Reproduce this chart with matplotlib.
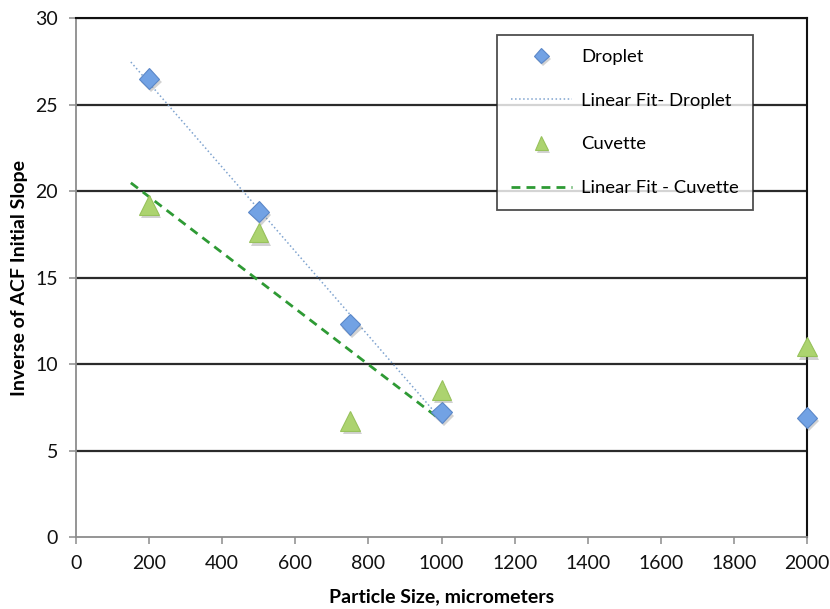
import matplotlib
matplotlib.use("Agg")
import matplotlib.pyplot as plt
import matplotlib.patheffects as pe
import numpy as np

# particle sizes (micrometers) and inverse ACF initial slope
sizes = [200, 500, 750, 1000, 2000]
droplet = [26.5, 18.8, 12.3, 7.2, 6.9]
cuvette = [19.2, 17.6, 6.7, 8.5, 11.0]

# linear fits use the first four sizes, extended back to 150
fit_n = 4
fit_start = 150

plt.rcParams['font.family'] = ['Lato', 'DejaVu Sans']

fig = plt.figure(figsize=(8.3, 6.09), dpi=100)
ax = fig.add_axes([0.0916, 0.1182, 0.8807, 0.8522])

shadow = [pe.SimplePatchShadow(offset=(1.5, -2.5), shadow_rgbFace='0.5', alpha=0.35), pe.Normal()]

# horizontal grid lines
for yv in range(5, 31, 5):
    ax.axhline(yv, color='#2b2b2b', lw=1.6, zorder=1)

ax.plot(sizes, droplet, ls='none', marker='D', ms=10.5, mfc='#72a2e4', mec='#5b87c8',
        mew=0.8, label='Droplet', zorder=4, path_effects=shadow, clip_on=False)

xs = np.array(sizes[:fit_n], dtype=float)
p_d = np.polyfit(xs, droplet[:fit_n], 1)
xf = np.array([fit_start, sizes[fit_n - 1]])
ax.plot(xf, np.polyval(p_d, xf), ls=':', color='#7fa3cf', lw=1.1,
        label='Linear Fit- Droplet', zorder=3)

ax.plot(sizes, cuvette, ls='none', marker='^', ms=14, mfc='#acd36f', mec='#98c25c',
        mew=0.8, label='Cuvette', zorder=4, path_effects=shadow, clip_on=False)

p_c = np.polyfit(xs, cuvette[:fit_n], 1)
ax.plot(xf, np.polyval(p_c, xf), ls=(0, (3.2, 2.2)), color='#2e9a34', lw=2.0,
        label='Linear Fit - Cuvette', zorder=3)

ax.set_xlim(0, 2000)
ax.set_ylim(0, 30)
ax.set_xticks(range(0, 2001, 200))
ax.set_yticks(range(0, 31, 5))

for side in ['left', 'bottom']:
    ax.spines[side].set_color('#8c8c8c')
    ax.spines[side].set_linewidth(1.3)
for side in ['top', 'right']:
    ax.spines[side].set_color('#111111')
    ax.spines[side].set_linewidth(1.5)

ax.tick_params(direction='out', length=5, width=1.1, color='#8c8c8c',
               labelsize=14, pad=8, labelcolor='#111111')

ax.set_xlabel('Particle Size, micrometers', fontsize=14, fontweight='bold', labelpad=12)
ax.set_ylabel('Inverse of ACF Initial Slope', fontsize=14, fontweight='bold', labelpad=5)

leg = ax.legend(loc='upper left', bbox_to_anchor=(0.576, 0.967), borderaxespad=0,
                fontsize=13.3, frameon=True, fancybox=False, edgecolor='#222222',
                labelspacing=1.5, handlelength=3.3, handletextpad=0.5,
                borderpad=0.75, markerscale=0.7)
leg.get_frame().set_linewidth(1.3)
leg.set_zorder(5)

fig.savefig('out.png', dpi=100)
